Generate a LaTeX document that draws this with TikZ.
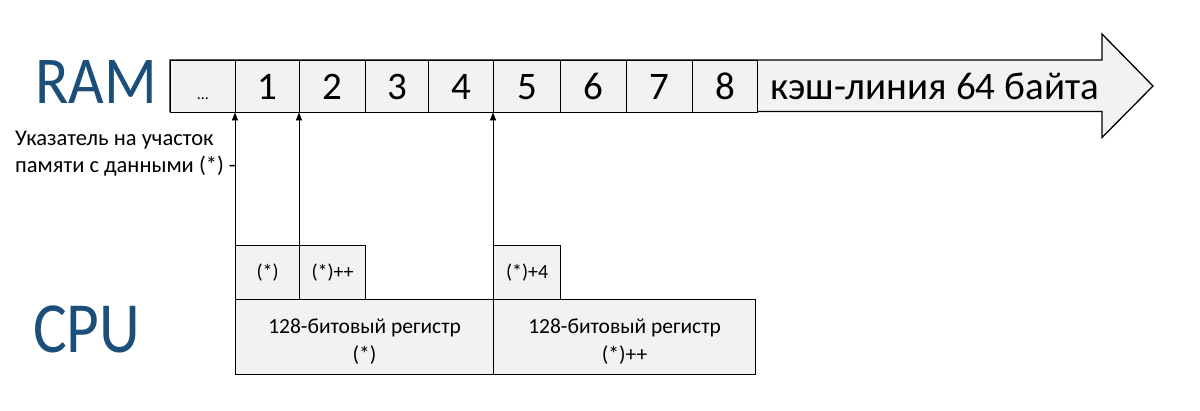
\documentclass[tikz,border=0pt]{standalone}
\usepackage{fontspec}
\setmainfont{Carlito}
\usetikzlibrary{arrows.meta}
\definecolor{cellfill}{HTML}{F2F2F2}
\definecolor{titleblue}{HTML}{1B4F7A}
\begin{document}
\begin{tikzpicture}[x=1pt,y=-1pt,
  cell/.style={draw=black, line width=0.9pt, fill=cellfill, minimum height=51.5pt,
    text height=39pt, text depth=12.5pt, inner sep=0pt, anchor=north west,
    font=\fontsize{39}{39}\selectfont},
  smallbox/.style={draw=black, line width=1.2pt, fill=cellfill, minimum height=54pt,
    inner sep=0pt, anchor=north west, font=\fontsize{20}{20}\selectfont},
  regbox/.style={draw=black, line width=1.2pt, fill=cellfill, minimum height=75pt,
    inner sep=0pt, anchor=north west, align=center, font=\fontsize{21.5}{28}\selectfont},
  ptr/.style={line width=0.8pt, -{Triangle[width=6pt,length=8pt]}},
  title/.style={text=titleblue, inner sep=0pt, anchor=base west}
]
\useasboundingbox (0,0) rectangle (1200,410);

% big RAM arrow
\draw[fill=cellfill, line width=1.3pt, line join=miter]
  (170,60) -- (1102,60) -- (1102,34) -- (1153,86) -- (1102,137.5) -- (1102,111.5) -- (170,111.5) -- cycle;

% cells
\node[cell, minimum width=65pt] (c0) at (170,60) {\fontsize{16}{16}\selectfont...};
\node[cell, minimum width=64pt] (c1) at (235,60) {1};
\node[cell, minimum width=66pt] (c2) at (299,60) {2};
\node[cell, minimum width=63pt] (c3) at (365,60) {3};
\node[cell, minimum width=65pt] (c4) at (428,60) {4};
\node[cell, minimum width=67pt] (c5) at (493,60) {5};
\node[cell, minimum width=66pt] (c6) at (560,60) {6};
\node[cell, minimum width=66pt] (c7) at (626,60) {7};
\node[cell, minimum width=65pt] (c8) at (692,60) {8};
\node[anchor=base west, inner sep=0pt, font=\fontsize{39}{39}\selectfont] (cl) at (770,99) {кэш-линия 64 байта};

% titles
\node[title, font=\fontsize{67}{67}\selectfont] (ram) at (35,103) {\scalebox{0.92}[1]{RAM}};
\node[title, font=\fontsize{72}{72}\selectfont] (cpu) at (33,352.5) {\scalebox{0.88}[1]{CPU}};

% pointer label
\node[anchor=base west, inner sep=0pt, align=left, font=\fontsize{22.5}{26.5}\selectfont] (lbl) at (15,172)
  {Указатель на участок\\памяти с данными (*) -};

% registers
\node[smallbox, minimum width=64pt] (s1) at (235,245) {(*)};
\node[smallbox, minimum width=66pt] (s2) at (299,245) {(*)++};
\node[smallbox, minimum width=67pt] (s3) at (493,245) {(*)+4};
\node[regbox, minimum width=258pt] (r1) at (235,299) {\rule{0pt}{23pt}128-битовый регистр\\(*)};
\node[regbox, minimum width=262pt] (r2) at (493,299) {\rule{0pt}{23pt}128-битовый регистр\\(*)++};

% pointers
\draw[ptr] (s1.north west) -- (c1.south west);
\draw[ptr] (s2.north west) -- (c2.south west);
\draw[ptr] (s3.north west) -- (c5.south west);
\end{tikzpicture}
\end{document}
